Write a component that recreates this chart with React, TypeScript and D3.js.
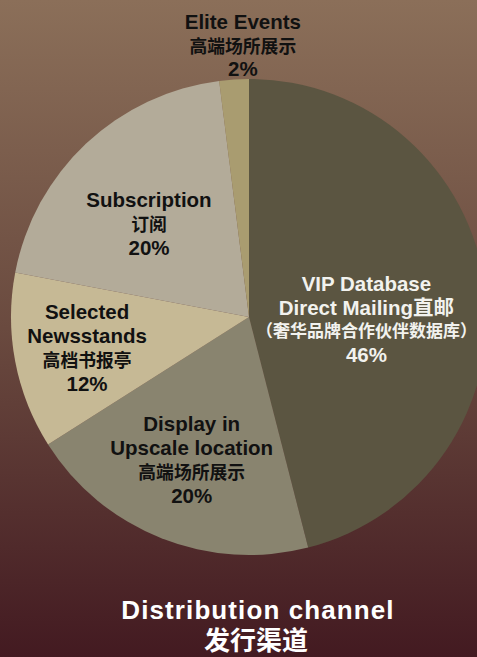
import React from "react";
import * as d3 from "d3";

// chart data
const categories = ["VIP", "Display", "Newsstands", "Subscription", "Elite"];
const shares = [46, 20, 12, 20, 2];
const sliceColors = ["#5b5541", "#89846f", "#c6b995", "#b3ab99", "#a99c70"];
const labelColors = ["#f2f2ee", "#111", "#111", "#111", "#111"];
const labelLines = [
  ["VIP Database", "Direct Mailing直邮", "（奢华品牌合作伙伴数据库）", "46%"],
  ["Display in", "Upscale location", "高端场所展示", "20%"],
  ["Selected", "Newsstands", "高档书报亭", "12%"],
  ["Subscription", "订阅", "20%"],
  ["Elite Events", "高端场所展示", "2%"],
];
const titleLines = ["Distribution channel", "发行渠道"];

const W = 477;
const H = 657;
const FONT = "'Liberation Sans', Arial, 'Noto Sans CJK SC', sans-serif";

// label placement: centroid radius factor + nudge of first baseline, per slice
const labelLayout = [
  { k: 0.62, dx: -29, dy: -8, gaps: [24, 22, 25] },
  { k: 0.62, dx: -3, dy: -23, gaps: [24, 24, 24] },
  { k: 0.62, dx: -17, dy: -26, gaps: [24, 24, 24] },
  { k: 0.62, dx: 1, dy: -2, gaps: [24, 24] },
  { k: 1.15, dx: 11, dy: -15, gaps: [24, 23] },
];

const isCjk = (s: string) => /^[\u3000-\u9fff\uff00-\uffef]/.test(s);

export default function App() {
  const cx = 249;
  const cy = 317;
  const r = 238;

  const pie = d3
    .pie<number>()
    .sort(null)
    .value((d) => d)
    .startAngle(0)
    .endAngle(2 * Math.PI);
  const arcs = pie(shares);
  const arc = d3.arc<d3.PieArcDatum<number>>().innerRadius(0).outerRadius(r);

  return (
    <svg
      width={W}
      height={H}
      style={{ position: "fixed", left: 0, top: 0 }}
      fontFamily={FONT}
    >
      <defs>
        <linearGradient id="bg" x1="0" y1="0" x2="0" y2="1">
          <stop offset="0" stopColor="#8b6f59" />
          <stop offset="0.5" stopColor="#6a4a3f" />
          <stop offset="1" stopColor="#431a21" />
        </linearGradient>
      </defs>
      <rect width={W} height={H} fill="url(#bg)" />

      <g transform={`translate(${cx},${cy})`}>
        {arcs.map((a, i) => (
          <path key={categories[i]} d={arc(a) ?? ""} fill={sliceColors[i]} />
        ))}

        {arcs.map((a, i) => {
          const lay = labelLayout[i];
          const la = d3
            .arc<d3.PieArcDatum<number>>()
            .innerRadius(r * lay.k)
            .outerRadius(r * lay.k);
          const [x, y] = la.centroid(a);
          const lines = labelLines[i];
          let acc = 0;
          const ys = lines.map((_, j) => {
            if (j > 0) acc += lay.gaps[j - 1];
            return acc;
          });
          return (
            <text
              key={categories[i]}
              textAnchor="middle"
              fontWeight="bold"
              fill={labelColors[i]}
            >
              {lines.map((s, j) => (
                <tspan
                  key={j}
                  x={x + lay.dx}
                  y={y + lay.dy + ys[j]}
                  fontSize={isCjk(s) ? (s.length > 10 ? 17 : 17.8) : 20.5}
                >
                  {s}
                </tspan>
              ))}
            </text>
          );
        })}
      </g>

      <text
        x={258}
        y={619}
        textAnchor="middle"
        fill="#fff"
        fontWeight="bold"
        fontSize={26}
        letterSpacing={1.1}
      >
        {titleLines[0]}
      </text>
      <text
        x={256}
        y={650}
        textAnchor="middle"
        fill="#fff"
        fontWeight="bold"
        fontSize={26}
      >
        {titleLines[1]}
      </text>
    </svg>
  );
}
